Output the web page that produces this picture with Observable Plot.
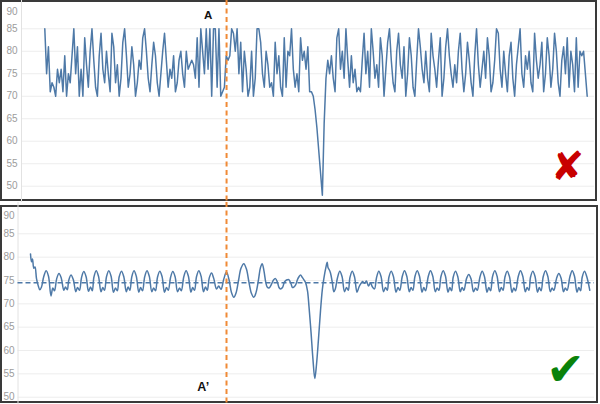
<!DOCTYPE html>
<html>
<head>
<meta charset="utf-8">
<script src="https://cdn.jsdelivr.net/npm/d3@7"></script>
<script src="https://cdn.jsdelivr.net/npm/@observablehq/plot@0.6"></script>
<style>
  html, body { margin: 0; padding: 0; background: #fff; }
  #wrap { position: relative; width: 600px; height: 404px; background: #fff; overflow: hidden; }
  .box { position: absolute; border: 2px solid #3a3a3a; box-sizing: border-box; }
  .pl { position: absolute; left: 0; }
</style>
</head>
<body>
<div id="wrap">
  <div class="box" style="left:0;top:0;width:597px;height:201px"></div>
  <div class="box" style="left:0;top:205px;width:598px;height:198px"></div>
  <div id="top" class="pl" style="top:0"></div>
  <div id="bot" class="pl" style="top:202px"></div>
</div>
<script>
// ---- data ----
const yTicks = [50, 55, 60, 65, 70, 75, 80, 85];
const topLabelTick = [90];

// top panel: raw noisy signal (one value per sample)
const topValues = [
  85,75,81,71,73,72,70,76,73,76,71,79,70,75,73,79,85,75,81,70,
  76,70,83,77,72,80,85,78,72,70,79,84,76,73,80,75,71,84,81,73,
  77,70,74,82,85,79,72,75,81,77,70,73,78,76,83,85,80,74,71,77,
  82,79,73,70,75,80,84,78,72,76,74,79,71,73,78,80,75,72,80,76,
  77,78,77,74,83,72,85,80,75,85,76,85,70,85,85,72,85,70,71,72,
  79,78,79,85,84,80,85,75,82,71,80,76,70,72,80,70,74,85,85,82,
  75,72,80,77,72,73,70,82,75,79,72,70,83,72,80,79,85,76,72,75,
  71,83,78,80,76,81,71,71,70,67,63,58,53,48,64,74,78,75,79,74,
  71,83,85,76,80,74,85,78,72,79,73,76,71,72,71,78,84,75,80,72,
  85,80,74,77,72,83,79,70,76,82,85,78,73,71,80,84,77,74,81,70,
  75,83,79,72,70,78,85,81,76,73,80,74,71,84,79,76,72,78,83,70,
  74,81,85,79,75,72,77,73,80,84,76,71,75,82,78,73,70,79,85,77,
  72,76,80,74,83,79,71,73,78,85,84,76,72,80,75,71,79,82,74,70,
  77,81,85,75,72,79,76,80,73,71,84,78,74,77,82,71,75,83,79,72,
  76,84,80,73,70,78,81,75,83,72,80,77,71,83,72,80,79,80,75,70
];
const topMarker = 100.2;   // sample index of event A

// bottom panel: filtered signal, [time, value]
const bottomPoints = [
  [0,80.7],[1,79.0],[2,79.6],[3.3,77.6],[4.5,77.9],[6,75.4],[7.7,73.9],[9.3,73.0],[11,73.6],[13.2,75.8],
  [15.7,77.1],[18,75.9],[20.5,71.7],[22.3,73.4],[24,72.8],[26.2,75.4],
  [28.5,76.5],[30.8,75.5],[33.3,72.9],[35,73.6],[36.8,73.0],[38.2,75.0],
  [40.5,76.2],[42.8,75.2],[45.3,72.6],[47,73.5],[49,72.9],[51,75.6],
  [53.3,76.9],[55.6,75.8],[58,72.7],[60,73.6],[61.8,72.8],[63.4,75.7],
  [65.7,77.1],[68,75.9],[70.5,72.6],[72.3,73.5],[74,72.9],[76,75.8],
  [78.3,77.1],[80.6,75.9],[83,72.5],[85,73.4],[86.8,72.8],[88.7,75.8],
  [91,77.0],[93.3,75.8],[95.8,72.6],[97.6,73.6],[99.4,72.9],[101.2,75.7],
  [103.5,77.1],[105.8,75.9],[108.3,72.5],[110.1,73.5],[112,72.8],[114.2,75.8],
  [116.5,77.1],[118.8,75.9],[121.3,72.6],[123.1,73.4],[125,72.8],[127,75.7],
  [129.3,77.0],[131.6,75.8],[134,72.5],[136,73.5],[137.8,72.9],[140,75.6],
  [142.3,76.9],[144.6,75.8],[147,72.6],[149,73.4],[150.8,72.8],[153.3,75.8],
  [155.6,77.1],[157.9,75.9],[160.4,72.5],[162.2,73.5],[164,72.9],[166,75.8],
  [168.3,77.1],[170.6,75.9],[173,72.6],[175,73.6],[176.8,72.9],[178.7,75.5],
  [181,76.6],[183.3,75.4],[186,73.2],[188.2,73.8],[190.5,73.1],[193.4,75.4],
  [196,76.8],[198.5,75.2],[201,72.4],[203.3,71.4],[205.5,72.3],[208,75.0],[210.5,77.6],
  [213.3,78.6],[216,77.4],[218.5,74.6],[221,72.2],[223.3,71.4],[225.5,72.4],[228,75.2],[230,77.8],
  [231.7,78.6],[233.5,77.0],[235.3,74.6],[236.7,73.6],[238.5,73.4],
  [241,74.2],[243,75.1],[245,75.4],[247,74.6],[248.5,73.5],[250,73.2],[252,73.5],[254,74.7],
  [256,75.1],[258.3,75.2],[260.5,74.3],[262,73.5],[263.3,73.6],[265,74.0],[267,75.2],
  [268.5,75.8],[270,76.2],[272,75.6],[275,74.6],
  [277,72.8],[278.5,69.4],[280.5,64.0],[282.5,58.0],[284.3,54.0],[286,57.0],[288,62.5],[290,68.5],
  [291.8,73.0],[293.5,75.6],[295.5,77.9],[296.7,78.9],[297.5,77.8],[299,77.2],
  [300,76.6],[301.8,74.6],[303.3,72.6],[304.8,73.2],[307,75.6],
  [309.3,77.0],[311.6,75.8],[314,72.6],[316,73.5],[317.8,72.9],[319.4,75.6],
  [321.7,77.0],[324,75.8],[326.5,72.5],[328.5,73.6],
  [330,74.2],[332,74.8],[334,74.4],[336,74.9],[338,73.8],[340,74.5],[342,73.6],[344,73.2],[346,75.6],
  [348.3,77.0],[350.6,75.8],[353,72.6],[355,73.5],[356.8,72.9],[358.4,75.7],
  [360.7,77.0],[363,75.8],[365.5,72.5],[367.5,73.5],[369.3,72.9],[371.7,75.8],
  [374,77.1],[376.3,75.9],[378.8,72.6],[380.6,73.5],[382.4,72.9],[384.4,75.8],
  [386.7,77.1],[389,75.9],[391.5,72.5],[393.3,73.5],[395.1,72.8],[397.7,75.8],
  [400,77.1],[402.3,75.9],[404.8,72.6],[406.6,73.4],[408.4,72.9],[410.4,75.8],
  [412.7,77.1],[415,75.9],[417.5,72.5],[419.3,73.5],[421.1,72.8],[422.7,75.7],
  [425,77.0],[427.3,75.8],[429.8,72.6],[431.6,73.5],[433.4,72.9],[436,75.4],
  [438.3,76.3],[440.6,75.3],[443,72.6],[445,73.4],[446.8,72.9],[449.4,75.7],
  [451.7,77.0],[454,75.8],[456.5,72.5],[458.3,73.5],[460.1,72.8],[462,75.8],
  [464.3,77.1],[466.6,75.9],[469,72.6],[470.8,73.5],[472.6,72.9],[474.4,75.7],
  [476.7,77.0],[479,75.8],[481.5,72.5],[483.3,73.4],[485.1,72.8],[487.7,75.8],
  [490,77.1],[492.3,75.9],[494.8,72.6],[496.6,73.5],[498.4,72.9],[500,75.7],
  [502.3,77.0],[504.6,75.8],[507,72.5],[508.8,73.5],[510.6,72.8],[512.7,75.8],
  [515,77.1],[517.3,75.9],[519.8,72.6],[521.6,73.4],[523.4,72.9],[526,75.4],
  [528.3,76.5],[530.6,75.5],[533,72.6],[534.8,73.4],[536.6,72.9],[539.4,75.8],
  [541.7,77.1],[544,75.9],[546.5,72.5],[548.3,73.5],[550.1,72.8],[551.7,75.7],
  [554,77.0],[556.3,75.8],[559.3,72.9]
];
const bottomMean = 74.5;
const bottomMarker = 196;  // time of event A'

// ---- styling / layout ----
const BLUE = "#4e79a7";
const ORANGE = "#f08a36";
const TICK = "#9c9c9c";
const GRID = "#ededed";
const FONT = "'Liberation Sans', Arial, sans-serif";

// top panel
{
  const n = topValues.length;
  const ml = 21, mr = 6, mt = 8, mb = 5, h = 202;
  const pxFirst = 44.3, pxLast = 586.7;
  const per = (pxLast - pxFirst) / (n - 1);
  const xDom = [-(pxFirst - ml) / per, (n - 1) + ((600 - mr) - pxLast) / per];
  const data = topValues.map((v, i) => ({i, v}));
  const chart = Plot.plot({
    width: 600, height: h,
    marginLeft: ml, marginRight: mr, marginTop: mt, marginBottom: mb,
    x: {domain: xDom, axis: null, label: null},
    y: {domain: [47.49, 89.51], axis: null, label: null},
    style: {background: "transparent", overflow: "visible", fontFamily: FONT},
    marks: [
      Plot.gridY(yTicks, {stroke: GRID, strokeOpacity: 1}),
      Plot.ruleX([xDom[0]], {stroke: "#e2e2e2", insetTop: -mt, insetBottom: -mb}),
      Plot.axisY(yTicks, {tickSize: 0, tickPadding: 4, fill: TICK, fontSize: 10, label: null}),
      Plot.axisY(topLabelTick, {tickSize: 0, tickPadding: 4, fill: TICK, fontSize: 10, dy: 6, label: null}),
      Plot.line(data, {x: "i", y: "v", stroke: BLUE, strokeWidth: 1.5}),
      Plot.ruleX([topMarker], {stroke: ORANGE, strokeWidth: 2, strokeDasharray: "5,3.5", insetTop: -mt, insetBottom: -mb}),
      Plot.text([{t: topMarker, label: "A"}], {x: "t", text: "label", frameAnchor: "top", dx: -18.4, dy: 7,
        fontSize: 11.5, fontWeight: "bold", fill: "#111", stroke: "white", strokeWidth: 3, lineAnchor: "middle"}),
      Plot.text(["\u2718"], {text: d => d, frameAnchor: "bottom-right", dx: -27, dy: -30,
        fill: "#c80000", fontSize: 40, fontFamily: "DejaVu Sans", textAnchor: "middle", lineAnchor: "middle"})
    ]
  });
  document.getElementById("top").append(chart);
}

// bottom panel
{
  const ml = 17.5, mr = 6, mt = 6, mb = 3, h = 202;
  const pxFirst = 30;
  const xDom = [ml - pxFirst, (600 - mr) - pxFirst];
  const data = bottomPoints.map(([t, v]) => ({t, v}));
  const chart = Plot.plot({
    width: 600, height: h,
    marginLeft: ml, marginRight: mr, marginTop: mt, marginBottom: mb,
    x: {domain: xDom, axis: null, label: null},
    y: {domain: [49.08, 90.42], axis: null, label: null},
    style: {background: "transparent", overflow: "visible", fontFamily: FONT},
    marks: [
      Plot.gridY(yTicks, {stroke: GRID, strokeOpacity: 1}),
      Plot.ruleX([xDom[0]], {stroke: "#e2e2e2", insetTop: -mt, insetBottom: -mb}),
      Plot.axisY(yTicks, {tickSize: 0, tickPadding: 3.5, fill: TICK, fontSize: 10, label: null}),
      Plot.axisY(topLabelTick, {tickSize: 0, tickPadding: 3.5, fill: TICK, fontSize: 10, dy: 5, label: null}),
      Plot.ruleY([bottomMean], {stroke: BLUE, strokeWidth: 1.5, strokeDasharray: "5,3"}),
      Plot.line(data, {x: "t", y: "v", stroke: BLUE, strokeWidth: 1.5, curve: "catmull-rom"}),
      Plot.ruleX([bottomMarker], {stroke: ORANGE, strokeWidth: 2, strokeDasharray: "5,3.5", insetTop: -mt, insetBottom: -mb}),
      Plot.text([{t: bottomMarker, label: "A\u2019"}], {x: "t", text: "label", frameAnchor: "bottom", dx: -23.3, dy: -15,
        fontSize: 12.5, fontWeight: "bold", fill: "#111", stroke: "white", strokeWidth: 6, lineAnchor: "middle"}),
      Plot.text(["\u2714"], {text: d => d, frameAnchor: "bottom-right", dx: -29, dy: -31,
        fill: "#0a820a", fontSize: 46, fontFamily: "DejaVu Sans", textAnchor: "middle", lineAnchor: "middle"})
    ]
  });
  document.getElementById("bot").append(chart);
}
</script>
</body>
</html>
